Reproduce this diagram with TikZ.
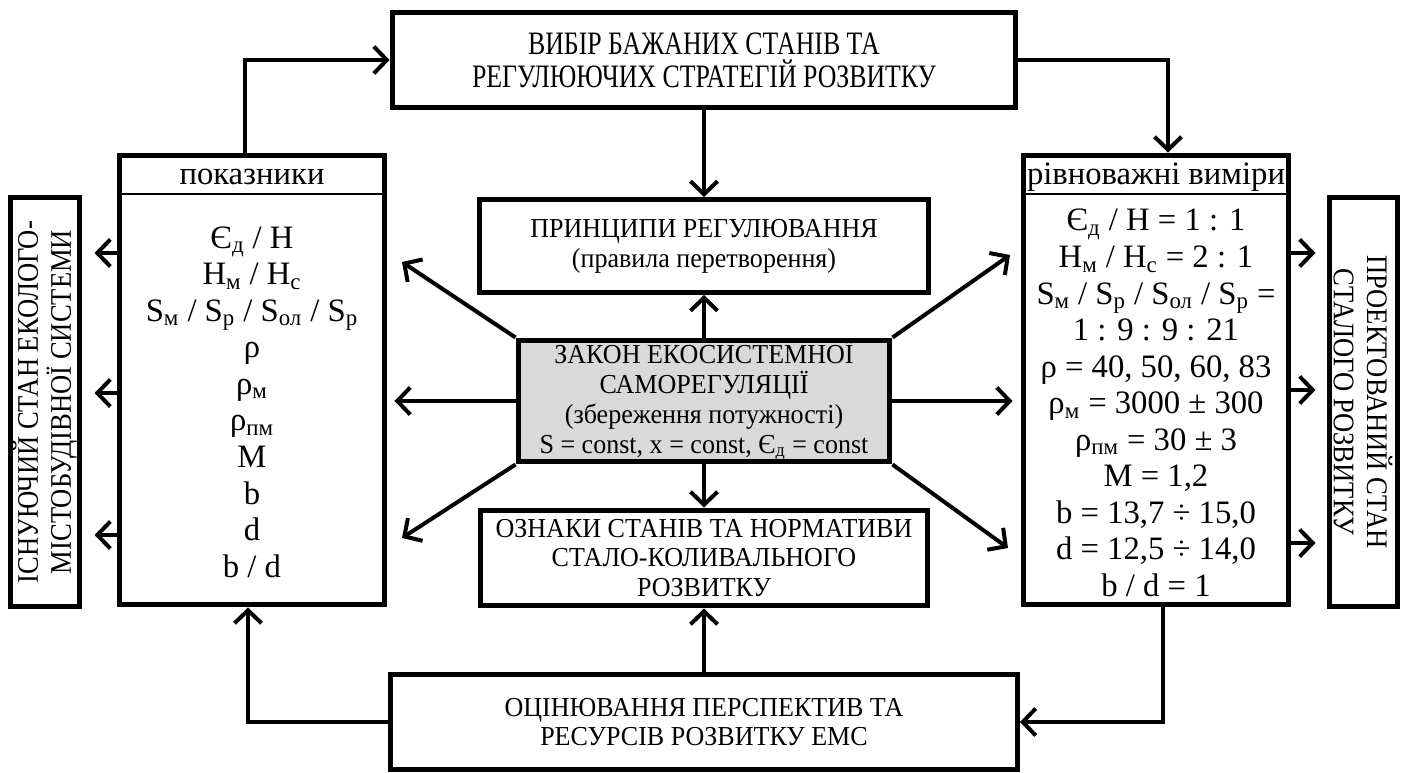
\documentclass[tikz,border=0pt]{standalone}
\usepackage{fontspec}
\setmainfont{Liberation Serif}
\newfontfamily\narrowfont[FakeStretch=0.79]{Liberation Serif}
\newfontfamily\vertfont[FakeStretch=0.89]{Liberation Serif}
\newfontfamily\slimfont[FakeStretch=0.95]{Liberation Serif}
\usetikzlibrary{arrows.meta, calc}

\definecolor{lawgray}{RGB}{217,217,217}
\newcommand{\lo}[1]{\textsubscript{#1}}

\begin{document}
\begin{tikzpicture}[
    x=0.02cm, y=-0.02cm, % one unit = one pixel of the layout
    >={Straight Barb[length=0.26cm, width=0.54cm]}, % open chevron tips
    box/.style={draw, line width=0.1cm, align=center, inner sep=0pt}, % thick frames
    topbox/.style={box, font=\narrowfont\fontsize{18.6}{18.8}\selectfont},
    vertbox/.style={box, font=\vertfont\fontsize{17}{18.8}\selectfont},
    midbox/.style={box, font=\slimfont\fontsize{15.6}{17}\selectfont},
    listbox/.style={box, minimum width=5.32cm, minimum height=9cm},
    listtext/.style={align=center, font=\fontsize{18.6}{20.8}\selectfont},
    arr/.style={->, line width=0.08cm}, % connectors
    sep/.style={line width=0.035cm} % thin line under the headers
]
    \useasboundingbox (0,0) rectangle (1408,773);

    % --- Central column ---
    \node[topbox, minimum width=12.48cm, minimum height=1.9cm] (choice) at (704,60)
        {ВИБІР БАЖАНИХ СТАНІВ ТА\\РЕГУЛЮЮЧИХ СТРАТЕГІЙ РОЗВИТКУ};
    \node[midbox, minimum width=9cm, minimum height=1.86cm] (princ) at (704,246)
        {ПРИНЦИПИ РЕГУЛЮВАННЯ\\(правила перетворення)};
    \node[midbox, fill=lawgray, minimum width=7.44cm, minimum height=2.44cm] (law) at (704,401)
        {ЗАКОН ЕКОСИСТЕМНОЇ\\САМОРЕГУЛЯЦІЇ\\(збереження потужності)\\S = const, x = const, Є\lo{д} = const};
    \node[midbox, minimum width=8.96cm, minimum height=1.92cm] (signs) at (704,558)
        {ОЗНАКИ СТАНІВ ТА НОРМАТИВИ\\СТАЛО-КОЛИВАЛЬНОГО\\РОЗВИТКУ};
    \node[midbox, minimum width=12.54cm, minimum height=1.9cm] (estim) at (704,722)
        {ОЦІНЮВАННЯ ПЕРСПЕКТИВ ТА\\РЕСУРСІВ РОЗВИТКУ ЕМС};

    % --- Indicator boxes ---
    \node[listbox] (llist) at (252,380) {};
    \node[listbox] (rlist) at (1156,380) {};
    \draw[sep] (llist.west |- 0,194) -- (llist.east |- 0,194);
    \draw[sep] (rlist.west |- 0,194) -- (rlist.east |- 0,194);
    \node[listtext, anchor=base] (ltitle) at (252,185) {показники};
    \node[listtext, anchor=base] (rtitle) at (1156,185) {рівноважні виміри};
    \node[listtext] (lvals) at (252,402)
        {Є\lo{д} / Н\\Н\lo{м} / Н\lo{с}\\S\lo{м} / S\lo{р} / S\lo{ол} / S\lo{р}\\ρ\\ρ\lo{м}\\ρ\lo{пм}\\М\\b\\d\\b / d};
    \node[listtext] (rvals) at (1156,403)
        {Є\lo{д} / Н = 1 : 1\\Н\lo{м} / Н\lo{с} = 2 : 1\\S\lo{м} / S\lo{р} / S\lo{ол} / S\lo{р} =\\1 : 9 : 9 : 21\\ρ = 40, 50, 60, 83\\ρ\lo{м} = 3000 ± 300\\ρ\lo{пм} = 30 ± 3\\М = 1,2\\b = 13,7 ÷ 15,0\\d = 12,5 ÷ 14,0\\b / d = 1};

    % --- Side states ---
    \node[vertbox, rotate=90, minimum width=8.2cm, minimum height=1.38cm] (lvert) at (45,402)
        {ІСНУЮЧИЙ СТАН ЕКОЛОГО-\\МІСТОБУДІВНОЇ СИСТЕМИ};
    \node[vertbox, rotate=-90, minimum width=8.2cm, minimum height=1.36cm] (rvert) at (1363,402)
        {ПРОЕКТОВАНИЙ СТАН\\СТАЛОГО РОЗВИТКУ};

    % --- Feedback loop ---
    \draw[arr] ([xshift=-0.14cm]llist.north) |- (choice.west);
    \draw[arr] (choice.east) -| ([xshift=0.24cm]rlist.north);
    \draw[arr] ([xshift=0.14cm]rlist.south) |- (estim.east);
    \draw[arr] (estim.west) -| ([xshift=-0.08cm]llist.south);

    % --- Vertical links of the central column ---
    \draw[arr] (choice.south) -- (princ.north);
    \draw[arr] (law.north) -- (princ.south);
    \draw[arr] (law.south) -- (signs.north);
    \draw[arr] (estim.north) -- (signs.south);

    % --- Law spreading to both indicator boxes ---
    \coordinate (lup) at (402,262);
    \coordinate (ldown) at (402,538);
    \coordinate (rup) at (1010,255);
    \coordinate (rdown) at (1008,548);
    \draw[arr] (law.west) -- ($(llist.east |- law.west)+(7,0)$);
    \draw[arr] (law.east) -- ($(rlist.west |- law.east)+(-8,0)$);
    \draw[arr] (law.north west) -- (lup);
    \draw[arr] (law.south west) -- (ldown);
    \draw[arr] (law.north east) -- (rup);
    \draw[arr] (law.south east) -- (rdown);

    % --- Boxes to side states ---
    \foreach \yy in {253,393,535}
        \draw[arr] (llist.west |- 0,\yy) -- +(-22,0);
    \foreach \yy in {253,390,543}
        \draw[arr] (rlist.east |- 0,\yy) -- +(24,0);

\end{tikzpicture}
\end{document}
